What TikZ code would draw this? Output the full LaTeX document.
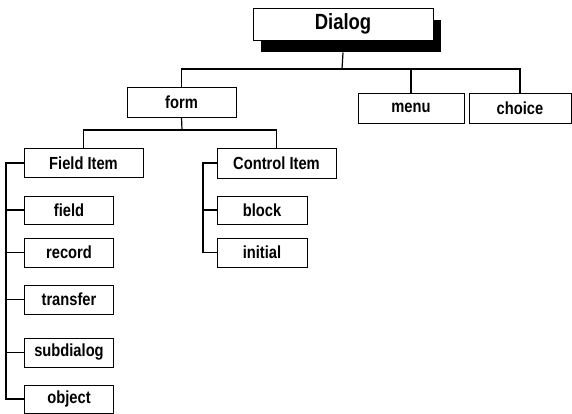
\documentclass[tikz,border=0pt]{standalone}
\usepackage{fontspec}
\setmainfont{Liberation Sans}[FakeStretch=0.84]
\usetikzlibrary{shadows}
\begin{document}
\begin{tikzpicture}[x=1pt,y=-1pt,
  box/.style={draw, line width=1pt, rectangle, inner sep=0pt, fill=white,
    font=\bfseries\fontsize{17.5}{19}\selectfont},
  link/.style={line width=1.2pt}]
\useasboundingbox (0,0) rectangle (572,413);

% root with its heavy drop shadow
\node[box, minimum width=180pt, minimum height=32pt,
  font=\bfseries\fontsize{22}{24}\selectfont,
  drop shadow={shadow xshift=8pt, shadow yshift=-12pt, fill=black, opacity=1}]
  (dialog) at (343,24) {Dialog};

% first level
\node[box, minimum width=109pt, minimum height=30pt] (form)   at (181.5,102) {form};
\node[box, minimum width=106pt, minimum height=30pt] (menu)   at (411,108)   {menu};
\node[box, minimum width=102pt, minimum height=30pt] (choice) at (520,108)   {choice};

% second level
\node[box, minimum width=119pt, minimum height=29pt] (fielditem) at (83.5,163)  {Field Item};
\node[box, minimum width=119pt, minimum height=30pt] (ctrlitem)  at (276.5,163) {Control Item};

% field items
\node[box, minimum width=89pt, minimum height=28pt] (field)     at (69,210)   {field};
\node[box, minimum width=89pt, minimum height=29pt] (record)    at (69,252.5) {record};
\node[box, minimum width=89pt, minimum height=29pt] (transfer)  at (69,299.5) {transfer};
\node[box, minimum width=89pt, minimum height=29pt] (subdialog) at (69,352.5) {subdialog};
\node[box, minimum width=89pt, minimum height=28pt] (object)    at (69,399)   {object};

% control items
\node[box, minimum width=90pt, minimum height=28pt] (block)   at (262,210) {block};
\node[box, minimum width=90pt, minimum height=29pt] (initial) at (262,252.5) {initial};

% tree connectors
\coordinate (busA) at (342,69);
\draw[link] (dialog.south) ++(0,12) -- (busA);
\draw[link] (form.north) |- (busA) -| (choice.north);
\draw[link] (menu.north) -- (menu.north |- busA);

\coordinate (busB) at (182,130);
\draw[link] (form.south) -- (busB);
\draw[link] (fielditem.north) |- (busB) -| (ctrlitem.north);

\coordinate (spineF) at (6,399);
\draw[link] (fielditem.west) -| (spineF) -- (object.west);
\foreach \n in {field,record,transfer,subdialog}
  \draw[link] (\n.west) -- (\n.west -| spineF);

\coordinate (spineC) at (203,252.5);
\draw[link] (ctrlitem.west) -| (spineC) -- (initial.west);
\draw[link] (block.west) -- (block.west -| spineC);
\end{tikzpicture}
\end{document}
